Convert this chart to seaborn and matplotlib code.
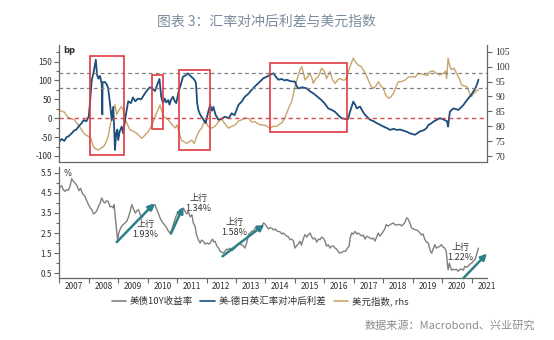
import matplotlib
matplotlib.use("Agg")
import matplotlib.pyplot as plt
import pandas as pd
import seaborn as sns
from matplotlib.lines import Line2D
from matplotlib.patches import Rectangle
from matplotlib.ticker import MultipleLocator, FixedLocator, NullFormatter

sns.set_theme(style="white")
plt.rcParams['font.family'] = ['Noto Sans CJK SC', 'DejaVu Sans']
plt.rcParams['axes.unicode_minus'] = False

# ---------------- data ----------------
# US vs DE/JP/UK FX-hedged yield spread (bp, left axis)
spread_t = [2007.00, 2007.08, 2007.17, 2007.25, 2007.33, 2007.42, 2007.50, 2007.58, 2007.67, 2007.75,
            2007.83, 2007.92, 2008.00, 2008.04, 2008.10, 2008.16, 2008.24, 2008.28, 2008.33, 2008.38,
            2008.44, 2008.46, 2008.47, 2008.55, 2008.62, 2008.66, 2008.72, 2008.78, 2008.83, 2008.86,
            2008.89, 2008.93, 2008.97, 2009.00, 2009.05, 2009.12, 2009.17, 2009.25, 2009.34, 2009.43,
            2009.50, 2009.58, 2009.67, 2009.78, 2009.90, 2010.00, 2010.08, 2010.17, 2010.25, 2010.33,
            2010.40, 2010.46, 2010.52, 2010.58, 2010.63, 2010.70, 2010.74, 2010.80, 2010.86, 2010.92,
            2010.97, 2011.05, 2011.12, 2011.20, 2011.28, 2011.37, 2011.45, 2011.54, 2011.60, 2011.64,
            2011.68, 2011.72, 2011.78, 2011.83, 2011.90, 2011.97, 2012.05, 2012.12, 2012.18, 2012.23,
            2012.30, 2012.40, 2012.50, 2012.62, 2012.75, 2012.85, 2012.95, 2013.08, 2013.20, 2013.30,
            2013.42, 2013.53, 2013.65, 2013.76, 2013.85, 2013.93, 2014.05, 2014.15, 2014.27, 2014.35,
            2014.44, 2014.55, 2014.65, 2014.72, 2014.85, 2015.00, 2015.06, 2015.11, 2015.25, 2015.40,
            2015.50, 2015.62, 2015.75, 2015.90, 2016.00, 2016.13, 2016.25, 2016.36, 2016.47, 2016.58,
            2016.70, 2016.80, 2016.87, 2016.98, 2017.05, 2017.10, 2017.21, 2017.30, 2017.38, 2017.47,
            2017.55, 2017.67, 2017.78, 2017.90, 2018.00, 2018.12, 2018.23, 2018.35, 2018.45, 2018.57,
            2018.68, 2018.80, 2018.90, 2019.00, 2019.07, 2019.15, 2019.24, 2019.33, 2019.41, 2019.48,
            2019.53, 2019.62, 2019.70, 2019.80, 2019.92, 2020.00, 2020.09, 2020.16, 2020.20, 2020.23,
            2020.26, 2020.32, 2020.38, 2020.47, 2020.55, 2020.63, 2020.72, 2020.80, 2020.89, 2020.97,
            2021.06, 2021.13, 2021.19, 2021.23]
spread_bp = [-62, -55, -60, -50, -47, -40, -33, -30, -20, -14,
             -5, -8, 5, 40, 100, 120, 155, 115, 105, 112,
             92, 10, 95, 96, 88, 79, 40, -5, 30, -20,
             -84, -40, -30, -58, -35, -22, -40, 5, 45, 40,
             55, 45, 52, 50, 65, 76, 82, 78, 72, 90,
             104, 57, 40, 52, 42, 48, 36, 50, 57, 45,
             40, 70, 88, 110, 113, 119, 112, 106, 100, 93,
             40, 22, 10, 4, -5, -13, 15, 35, 20, 30,
             10, -4, -2, 4, 0, 13, 8, 35, 45, 57,
             65, 75, 85, 93, 100, 106, 110, 115, 119, 110,
             102, 104, 100, 102, 98, 97, 85, 79, 82, 79,
             72, 66, 58, 48, 40, 26, 22, 17, 8, 0,
             -2, -2, 17, 44, 35, 26, 31, 18, 9, 2,
             -4, -8, -13, -18, -22, -26, -31, -28, -31, -30,
             -33, -36, -40, -42, -44, -40, -35, -33, -30, -25,
             -18, -14, -9, -5, 0, -2, -5, -8, -22, 0,
             17, 22, 26, 24, 22, 28, 35, 44, 53, 60,
             71, 80, 92, 102]

# US dollar index (right axis)
dxy_t = [2007.00, 2007.08, 2007.17, 2007.25, 2007.34, 2007.42, 2007.51, 2007.60, 2007.68, 2007.75,
         2007.83, 2007.90, 2008.00, 2008.07, 2008.16, 2008.25, 2008.33, 2008.42, 2008.50, 2008.58,
         2008.66, 2008.72, 2008.78, 2008.85, 2008.89, 2008.95, 2009.00, 2009.10, 2009.17, 2009.24,
         2009.32, 2009.40, 2009.50, 2009.63, 2009.72, 2009.80, 2009.91, 2010.00, 2010.08, 2010.17,
         2010.25, 2010.35, 2010.42, 2010.48, 2010.54, 2010.62, 2010.70, 2010.79, 2010.88, 2010.94,
         2011.00, 2011.08, 2011.15, 2011.24, 2011.32, 2011.40, 2011.50, 2011.58, 2011.66, 2011.75,
         2011.83, 2011.95, 2012.05, 2012.17, 2012.28, 2012.40, 2012.50, 2012.57, 2012.66, 2012.74,
         2012.85, 2012.97, 2013.08, 2013.19, 2013.30, 2013.42, 2013.53, 2013.64, 2013.75, 2013.87,
         2014.00, 2014.15, 2014.25, 2014.38, 2014.48, 2014.55, 2014.64, 2014.72, 2014.80, 2014.89,
         2014.95, 2015.00, 2015.08, 2015.17, 2015.23, 2015.30, 2015.34, 2015.43, 2015.51, 2015.58,
         2015.62, 2015.70, 2015.79, 2015.85, 2015.90, 2016.00, 2016.07, 2016.19, 2016.28, 2016.36,
         2016.45, 2016.53, 2016.62, 2016.70, 2016.76, 2016.82, 2016.87, 2016.98, 2017.05, 2017.15,
         2017.25, 2017.32, 2017.40, 2017.49, 2017.58, 2017.66, 2017.75, 2017.83, 2017.92, 2018.00,
         2018.08, 2018.17, 2018.25, 2018.34, 2018.42, 2018.51, 2018.62, 2018.74, 2018.85, 2018.96,
         2019.08, 2019.19, 2019.30, 2019.41, 2019.50, 2019.58, 2019.70, 2019.81, 2019.92, 2020.03,
         2020.12, 2020.15, 2020.20, 2020.26, 2020.32, 2020.40, 2020.49, 2020.58, 2020.66, 2020.75,
         2020.83, 2020.90, 2020.94, 2021.00, 2021.06, 2021.12, 2021.17, 2021.23]
dxy_val = [85.5, 85.0, 84.8, 83.6, 82.7, 82.5, 82.2, 81.0, 80.0, 79.0,
           77.8, 77.1, 76.6, 76.0, 73.2, 72.4, 72.1, 72.8, 73.2, 74.5,
           76.6, 80.0, 82.7, 86.0, 87.2, 84.0, 85.0, 86.6, 85.5, 82.2,
           80.5, 78.8, 78.5, 77.7, 76.8, 76.0, 77.1, 78.0, 79.3, 81.0,
           83.3, 85.5, 87.2, 85.0, 83.3, 82.8, 82.2, 81.0, 80.0, 79.5,
           80.5, 77.5, 75.4, 74.8, 74.3, 74.8, 75.4, 74.3, 76.6, 78.5,
           79.4, 82.1, 80.0, 79.4, 80.0, 81.5, 82.5, 81.6, 80.5, 79.4,
           80.0, 80.5, 81.8, 82.2, 82.8, 82.7, 81.5, 81.6, 80.8, 80.5,
           80.3, 79.4, 80.0, 80.0, 80.8, 81.1, 82.5, 84.4, 86.5, 88.3,
           91.0, 93.3, 96.0, 98.9, 100.0, 97.5, 95.5, 96.5, 97.7, 96.0,
           94.4, 95.8, 96.6, 98.0, 99.4, 98.5, 96.0, 98.3, 95.5, 94.4,
           95.5, 96.0, 95.5, 95.5, 96.6, 98.5, 100.0, 102.8, 101.5, 100.5,
           100.0, 98.9, 97.5, 95.5, 93.5, 92.7, 93.5, 94.9, 93.5, 92.7,
           90.5, 89.4, 89.8, 91.0, 93.0, 94.9, 95.0, 95.5, 96.5, 96.6,
           96.5, 97.7, 97.5, 97.2, 97.0, 98.3, 98.5, 97.7, 97.2, 97.7,
           98.5, 96.0, 102.8, 100.0, 98.9, 99.5, 97.7, 96.0, 93.8, 93.5,
           93.3, 92.0, 90.5, 90.0, 91.0, 91.5, 92.1, 92.1]

# US 10Y treasury yield (%)
ust_t = [2007.00, 2007.08, 2007.14, 2007.19, 2007.25, 2007.31, 2007.37, 2007.42, 2007.46, 2007.53,
         2007.60, 2007.67, 2007.72, 2007.79, 2007.87, 2007.93, 2007.99, 2008.05, 2008.10, 2008.16,
         2008.21, 2008.27, 2008.33, 2008.39, 2008.44, 2008.50, 2008.55, 2008.60, 2008.66, 2008.72,
         2008.78, 2008.83, 2008.86, 2008.90, 2008.94, 2008.98, 2009.02, 2009.06, 2009.12, 2009.17,
         2009.23, 2009.29, 2009.35, 2009.41, 2009.46, 2009.52, 2009.58, 2009.63, 2009.69, 2009.75,
         2009.80, 2009.86, 2009.91, 2009.98, 2010.03, 2010.08, 2010.15, 2010.20, 2010.25, 2010.30,
         2010.36, 2010.42, 2010.48, 2010.55, 2010.60, 2010.65, 2010.70, 2010.76, 2010.82, 2010.87,
         2010.93, 2010.99, 2011.05, 2011.10, 2011.15, 2011.21, 2011.28, 2011.33, 2011.38, 2011.44,
         2011.50, 2011.55, 2011.61, 2011.66, 2011.72, 2011.78, 2011.83, 2011.89, 2011.95, 2012.02,
         2012.08, 2012.12, 2012.20, 2012.25, 2012.29, 2012.35, 2012.41, 2012.46, 2012.52, 2012.57,
         2012.63, 2012.68, 2012.74, 2012.80, 2012.86, 2012.92, 2012.97, 2013.03, 2013.10, 2013.15,
         2013.19, 2013.25, 2013.30, 2013.36, 2013.42, 2013.48, 2013.54, 2013.59, 2013.65, 2013.70,
         2013.76, 2013.82, 2013.88, 2013.93, 2013.98, 2014.04, 2014.10, 2014.15, 2014.21, 2014.27,
         2014.33, 2014.39, 2014.44, 2014.50, 2014.56, 2014.61, 2014.66, 2014.72, 2014.78, 2014.83,
         2014.89, 2014.95, 2015.00, 2015.05, 2015.11, 2015.17, 2015.22, 2015.28, 2015.34, 2015.40,
         2015.45, 2015.51, 2015.57, 2015.62, 2015.68, 2015.74, 2015.80, 2015.85, 2015.91, 2015.96,
         2016.02, 2016.07, 2016.13, 2016.19, 2016.25, 2016.31, 2016.36, 2016.42, 2016.48, 2016.53,
         2016.60, 2016.66, 2016.72, 2016.78, 2016.84, 2016.88, 2016.93, 2016.98, 2017.04, 2017.10,
         2017.15, 2017.21, 2017.27, 2017.32, 2017.38, 2017.44, 2017.50, 2017.55, 2017.61, 2017.66,
         2017.72, 2017.77, 2017.83, 2017.88, 2017.94, 2018.00, 2018.05, 2018.10, 2018.16, 2018.22,
         2018.27, 2018.34, 2018.40, 2018.45, 2018.51, 2018.57, 2018.63, 2018.69, 2018.74, 2018.79,
         2018.84, 2018.90, 2018.96, 2019.02, 2019.07, 2019.13, 2019.19, 2019.24, 2019.30, 2019.35,
         2019.41, 2019.47, 2019.53, 2019.58, 2019.64, 2019.69, 2019.75, 2019.80, 2019.86, 2019.92,
         2019.97, 2020.03, 2020.09, 2020.14, 2020.18, 2020.20, 2020.24, 2020.28, 2020.32, 2020.37,
         2020.43, 2020.48, 2020.54, 2020.60, 2020.65, 2020.71, 2020.77, 2020.83, 2020.88, 2020.94,
         2021.00, 2021.05, 2021.11, 2021.17, 2021.23]
ust_yield = [4.75, 4.85, 4.65, 4.57, 4.65, 4.62, 4.85, 5.20, 5.10, 4.99,
             4.85, 4.60, 4.72, 4.45, 4.33, 4.10, 3.91, 3.75, 3.66, 3.45,
             3.49, 3.60, 3.83, 4.00, 4.24, 4.05, 3.99, 4.10, 4.07, 3.80,
             3.83, 3.75, 3.91, 3.30, 2.70, 2.15, 2.50, 2.67, 2.85, 2.92,
             3.00, 3.08, 3.30, 3.60, 3.91, 3.70, 3.49, 3.60, 3.66, 3.40,
             3.25, 3.40, 3.49, 3.60, 3.75, 3.83, 3.65, 3.85, 3.91, 3.70,
             3.49, 3.25, 3.08, 2.95, 2.85, 2.75, 2.60, 2.50, 2.65, 2.92,
             3.20, 3.41, 3.50, 3.66, 3.55, 3.74, 3.55, 3.45, 3.58, 3.30,
             3.41, 3.00, 2.83, 2.40, 2.17, 2.00, 2.15, 2.09, 1.95, 2.00,
             1.95, 2.00, 2.20, 2.05, 2.09, 1.85, 1.75, 1.59, 1.55, 1.50,
             1.60, 1.70, 1.67, 1.75, 1.62, 1.70, 1.75, 1.90, 2.00, 1.95,
             1.92, 1.85, 1.75, 2.00, 2.42, 2.50, 2.60, 2.58, 2.75, 2.85,
             2.83, 2.70, 2.80, 3.00, 2.95, 2.83, 2.70, 2.75, 2.75, 2.65,
             2.70, 2.60, 2.58, 2.55, 2.45, 2.50, 2.42, 2.35, 2.30, 2.17,
             2.20, 2.10, 1.75, 1.85, 1.95, 2.09, 1.90, 2.20, 2.42, 2.30,
             2.40, 2.50, 2.30, 2.20, 2.25, 2.05, 2.20, 2.17, 2.30, 2.25,
             2.09, 1.85, 1.92, 1.75, 1.85, 1.85, 1.75, 1.70, 1.55, 1.50,
             1.55, 1.60, 1.59, 1.75, 1.85, 2.30, 2.50, 2.45, 2.58, 2.45,
             2.50, 2.42, 2.35, 2.40, 2.20, 2.34, 2.30, 2.25, 2.20, 2.25,
             2.10, 2.30, 2.50, 2.35, 2.45, 2.58, 2.70, 2.92, 2.85, 2.90,
             2.95, 3.00, 2.90, 2.90, 2.92, 2.92, 2.85, 2.95, 3.05, 3.25,
             3.20, 3.00, 2.75, 2.70, 2.67, 2.65, 2.60, 2.50, 2.40, 2.45,
             2.17, 2.05, 2.00, 1.67, 1.50, 1.70, 1.92, 1.75, 1.80, 1.84,
             1.92, 1.80, 1.75, 1.55, 0.90, 0.67, 1.00, 0.80, 0.65, 0.70,
             0.67, 0.70, 0.60, 0.70, 0.70, 0.65, 0.84, 0.80, 0.85, 0.95,
             1.00, 1.10, 1.17, 1.45, 1.75]

# yield upswing episodes: start date, end date, start level, rise (pp)
rise_start_t = [2008.95, 2010.79, 2012.54, 2020.72]
rise_end_t = [2010.23, 2011.21, 2013.96, 2021.52]
rise_start_y = [2.05, 2.47, 1.34, 0.26]
rise_pp = [1.93, 1.34, 1.58, 1.22]

# highlighted spread episodes (start, end, low bp, high bp)
box_t0 = [2008.05, 2010.15, 2011.05, 2014.15]
box_t1 = [2009.20, 2010.52, 2012.10, 2016.78]
box_lo = [-98, -29, -85, -36]
box_hi = [166, 114, 127, 147]

years = list(range(2007, 2022))

# ---------------- style ----------------
BLUE = "#1d4e7c"
GOLD = "#c9a46c"
GREY = "#808080"
TEAL = "#2c8089"
RED = "#e0393e"
SPINE = "#666666"

spread_df = pd.DataFrame({"t": spread_t, "bp": spread_bp})
dxy_df = pd.DataFrame({"t": dxy_t, "dxy": dxy_val})
ust_df = pd.DataFrame({"t": ust_t, "y": ust_yield})

W, H = 554, 340
fig = plt.figure(figsize=(W / 100, H / 100), dpi=100)
L, R = 59.3, 487.0
ax_top = fig.add_axes([L / W, 1 - 162 / H, (R - L) / W, (162 - 45) / H])
ax_dxy = ax_top.twinx()
ax_bot = fig.add_axes([L / W, 1 - 278.3 / H, (R - L) / W, (278.3 - 167) / H])

# spread on top of the dollar index
ax_top.set_zorder(ax_dxy.get_zorder() + 1)
ax_top.patch.set_visible(False)

sns.lineplot(data=dxy_df, x="t", y="dxy", ax=ax_dxy, color=GOLD, lw=1.0)
sns.lineplot(data=spread_df, x="t", y="bp", ax=ax_top, color=BLUE, lw=1.3)
sns.lineplot(data=ust_df, x="t", y="y", ax=ax_bot, color=GREY, lw=1.0)

xmin, xmax = 2007.0, 2021.52
for a in (ax_top, ax_dxy, ax_bot):
    a.set_xlim(xmin, xmax)
    a.set_xlabel("")
    a.set_ylabel("")
ax_top.set_ylim(-116, 194)
ax_dxy.set_ylim(68.1, 107.2)
ax_bot.set_ylim(0.25, 5.78)

# reference levels
dash = (0, (3, 2.5))
ax_top.axhline(120, color=GREY, lw=0.9, ls=dash)
ax_top.axhline(80, color=GREY, lw=0.9, ls=dash)
ax_top.axhline(0, color="#d9484a", lw=1.0, ls=dash)

for t0, t1, lo, hi in zip(box_t0, box_t1, box_lo, box_hi):
    ax_top.add_patch(Rectangle((t0, lo), t1 - t0, hi - lo, fill=False,
                               ec=RED, lw=1.2, zorder=5))

# spines and ticks
for a in (ax_top, ax_dxy):
    a.spines["top"].set_visible(False)
ax_top.spines["right"].set_visible(False)
ax_dxy.spines["left"].set_visible(False)
ax_dxy.spines["bottom"].set_visible(False)
ax_bot.spines["top"].set_visible(False)
ax_bot.spines["right"].set_visible(False)
for a in (ax_top, ax_dxy, ax_bot):
    for s in a.spines.values():
        s.set_color(SPINE)
        s.set_linewidth(0.9)

ax_top.set_xticks([])
ax_dxy.set_xticks([])
ax_top.yaxis.set_major_locator(FixedLocator([-100, -50, 0, 50, 100, 150]))
ax_top.yaxis.set_minor_locator(MultipleLocator(25))
ax_top.tick_params(axis="y", which="both", left=True, direction="out", length=3.5,
                   width=0.8, color=SPINE, labelsize=6, pad=1.5, labelcolor="#333333")
ax_top.tick_params(axis="y", which="minor", length=2.5)

ax_dxy.yaxis.set_major_locator(FixedLocator(list(range(70, 106, 5))))
ax_dxy.tick_params(axis="y", which="both", right=True, direction="out", length=3.5,
                   width=0.8, color=SPINE, labelsize=7, pad=2.5, labelcolor="#333333")
for lab in ax_dxy.get_yticklabels():
    lab.set_family("Liberation Serif")

ax_bot.yaxis.set_major_locator(FixedLocator([0.5, 1.5, 2.5, 3.5, 4.5, 5.5]))
ax_bot.yaxis.set_minor_locator(FixedLocator([1.0, 2.0, 3.0, 4.0, 5.0]))
ax_bot.tick_params(axis="y", which="both", left=True, direction="out", length=3.5,
                   width=0.8, color=SPINE, labelsize=6, pad=1.5, labelcolor="#333333")
ax_bot.tick_params(axis="y", which="minor", length=2.5)

# year labels centred between year boundaries
ax_bot.xaxis.set_major_locator(FixedLocator(years))
ax_bot.xaxis.set_major_formatter(NullFormatter())
ax_bot.xaxis.set_minor_locator(FixedLocator([y + 0.5 for y in years]))
ax_bot.set_xticklabels([str(y) for y in years], minor=True)
ax_bot.tick_params(axis="x", which="major", bottom=True, direction="out", length=3.5,
                   width=0.8, color=SPINE)
ax_bot.tick_params(axis="x", which="minor", bottom=True, length=0, labelsize=6,
                   pad=3, labelcolor="#333333")

ax_top.text(0.01, 0.95, "bp", transform=ax_top.transAxes, fontsize=6,
            fontweight="bold", color="#333333", va="center", ha="left",
            family=["DejaVu Sans"])
ax_bot.text(0.01, 0.945, "%", transform=ax_bot.transAxes, fontsize=6,
            color="#333333", va="center", ha="left", family=["DejaVu Sans"])

# upswing arrows with their size
label_xy = [(2009.93, 2.69), (2011.72, 3.97), (2012.94, 2.76), (2020.63, 1.55)]
for t0, t1, y0, d, (lx, ly) in zip(rise_start_t, rise_end_t, rise_start_y, rise_pp, label_xy):
    ax_bot.annotate("", xy=(t1, y0 + d), xytext=(t0, y0),
                    arrowprops=dict(arrowstyle="-|>", color=TEAL, lw=1.8,
                                    mutation_scale=9, shrinkA=0, shrinkB=0),
                    zorder=6)
    ax_bot.text(lx, ly, f"上行\n{d:.2f}%", fontsize=6.5, color="#333333",
                ha="center", va="center", linespacing=1.15, zorder=7)

# legend
handles = [Line2D([], [], color=GREY, lw=1.2),
           Line2D([], [], color=BLUE, lw=1.2),
           Line2D([], [], color=GOLD, lw=1.2)]
labels = ["美债10Y收益率", "美-德日英汇率对冲后利差", "美元指数, rhs"]
fig.legend(handles, labels, loc="center", bbox_to_anchor=(260 / W, 1 - 301 / H),
           ncol=3, frameon=False, fontsize=6.8, handlelength=1.5, handletextpad=0.4,
           columnspacing=0.8, labelcolor="#333333")

fig.text(266 / W, 1 - 22 / H, "图表 3：汇率对冲后利差与美元指数", fontsize=10,
         color="#7c8c9e", ha="center", va="center")
fig.text(535 / W, 1 - 326 / H, "数据来源：Macrobond、兴业研究", fontsize=8,
         color="#8c8c8c", ha="right", va="center")

fig.savefig("out.png", dpi=100)
